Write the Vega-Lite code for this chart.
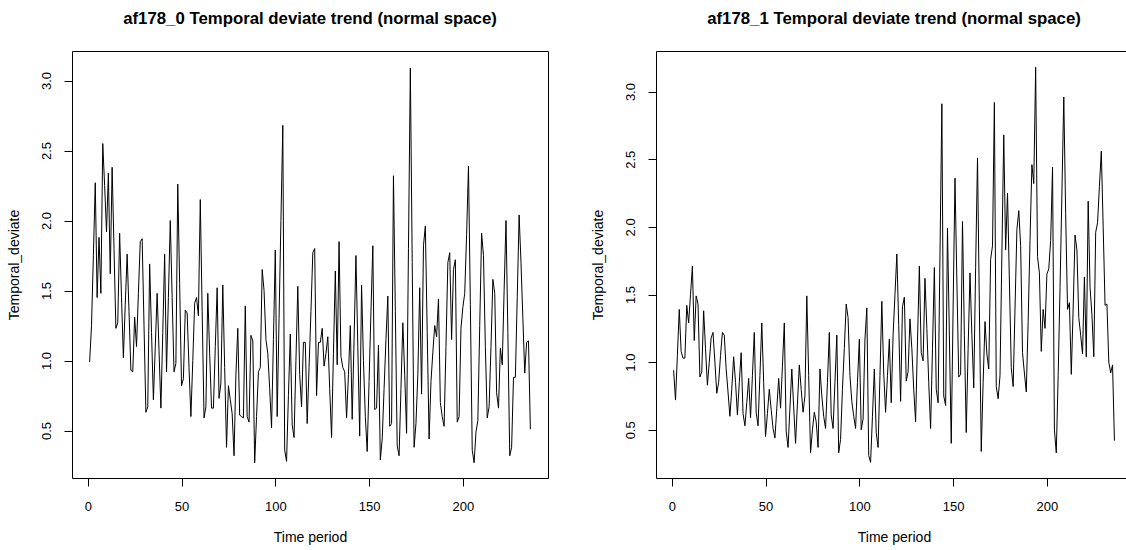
{
"$schema": "https://vega.github.io/schema/vega-lite/v6.json",
"padding": {"left": 7, "top": 10, "right": 0, "bottom": 0},
"spacing": 42,
"config": {
  "font": "Liberation Sans",
  "view": {"stroke": "black", "strokeWidth": 1},
  "axis": {"grid": false, "tickColor": "black", "tickSize": 8, "tickWidth": 1, "labelColor": "black", "labelFontSize": 13, "labelFont": "Liberation Sans", "titleFont": "Liberation Sans", "titleFontSize": 14, "titleFontWeight": "normal", "titleColor": "black", "domainColor": "black", "domainWidth": 1, "labelOverlap": false, "labelFlush": false}
},
"datasets": {
"a0": [
{"t":1,"v":0.99},{"t":2,"v":1.25},{"t":3,"v":1.75},{"t":4,"v":2.27},{"t":5,"v":1.45},{"t":6,"v":1.88},{"t":7,"v":1.48},{"t":8,"v":2.55},{"t":9,"v":2.25},{"t":10,"v":1.92},
{"t":11,"v":2.34},{"t":12,"v":1.62},{"t":13,"v":2.38},{"t":14,"v":1.8},{"t":15,"v":1.23},{"t":16,"v":1.27},{"t":17,"v":1.91},{"t":18,"v":1.45},{"t":19,"v":1.02},{"t":20,"v":1.4},
{"t":21,"v":1.76},{"t":22,"v":1.35},{"t":23,"v":0.93},{"t":24,"v":0.92},{"t":25,"v":1.31},{"t":26,"v":1.1},{"t":27,"v":1.48},{"t":28,"v":1.85},{"t":29,"v":1.87},{"t":30,"v":1.25},
{"t":31,"v":0.63},{"t":32,"v":0.67},{"t":33,"v":1.69},{"t":34,"v":1.2},{"t":35,"v":0.72},{"t":36,"v":1.1},{"t":37,"v":1.48},{"t":38,"v":1.07},{"t":39,"v":0.66},{"t":40,"v":1.2},
{"t":41,"v":1.76},{"t":42,"v":0.92},{"t":43,"v":1.45},{"t":44,"v":2.0},{"t":45,"v":1.45},{"t":46,"v":0.92},{"t":47,"v":0.98},{"t":48,"v":2.26},{"t":49,"v":1.55},{"t":50,"v":0.82},
{"t":51,"v":0.87},{"t":52,"v":1.36},{"t":53,"v":1.34},{"t":54,"v":0.95},{"t":55,"v":0.6},{"t":56,"v":1.0},{"t":57,"v":1.41},{"t":58,"v":1.45},{"t":59,"v":1.32},{"t":60,"v":2.15},
{"t":61,"v":1.35},{"t":62,"v":0.59},{"t":63,"v":0.67},{"t":64,"v":1.48},{"t":65,"v":1.05},{"t":66,"v":0.66},{"t":67,"v":0.66},{"t":68,"v":1.1},{"t":69,"v":1.52},{"t":70,"v":0.73},
{"t":71,"v":0.84},{"t":72,"v":1.54},{"t":73,"v":0.95},{"t":74,"v":0.38},{"t":75,"v":0.82},{"t":76,"v":0.72},{"t":77,"v":0.62},{"t":78,"v":0.32},{"t":79,"v":0.9},{"t":80,"v":1.23},
{"t":81,"v":0.61},{"t":82,"v":0.6},{"t":83,"v":0.59},{"t":84,"v":1.39},{"t":85,"v":0.6},{"t":86,"v":0.56},{"t":87,"v":1.18},{"t":88,"v":1.14},{"t":89,"v":0.27},{"t":90,"v":0.6},
{"t":91,"v":0.92},{"t":92,"v":0.95},{"t":93,"v":1.65},{"t":94,"v":1.5},{"t":95,"v":1.15},{"t":96,"v":1.05},{"t":97,"v":0.8},{"t":98,"v":0.52},{"t":99,"v":1.15},{"t":100,"v":1.79},
{"t":101,"v":0.6},{"t":102,"v":1.3},{"t":103,"v":2.0},{"t":104,"v":2.68},{"t":105,"v":0.36},{"t":106,"v":0.28},{"t":107,"v":0.75},{"t":108,"v":1.19},{"t":109,"v":0.54},{"t":110,"v":0.45},
{"t":111,"v":1.0},{"t":112,"v":1.53},{"t":113,"v":0.9},{"t":114,"v":0.67},{"t":115,"v":1.13},{"t":116,"v":1.13},{"t":117,"v":0.55},{"t":118,"v":0.95},{"t":119,"v":1.35},{"t":120,"v":1.77},
{"t":121,"v":1.8},{"t":122,"v":0.75},{"t":123,"v":1.13},{"t":124,"v":1.13},{"t":125,"v":1.23},{"t":126,"v":0.96},{"t":127,"v":1.05},{"t":128,"v":1.17},{"t":129,"v":0.8},{"t":130,"v":0.45},
{"t":131,"v":1.05},{"t":132,"v":1.64},{"t":133,"v":0.97},{"t":134,"v":1.85},{"t":135,"v":1.03},{"t":136,"v":0.95},{"t":137,"v":0.92},{"t":138,"v":0.59},{"t":139,"v":0.9},{"t":140,"v":1.25},
{"t":141,"v":0.58},{"t":142,"v":1.15},{"t":143,"v":1.75},{"t":144,"v":1.1},{"t":145,"v":0.46},{"t":146,"v":1.54},{"t":147,"v":1.0},{"t":148,"v":0.6},{"t":149,"v":0.35},{"t":150,"v":0.85},
{"t":151,"v":1.35},{"t":152,"v":1.82},{"t":153,"v":0.65},{"t":154,"v":0.66},{"t":155,"v":1.11},{"t":156,"v":0.29},{"t":157,"v":0.44},{"t":158,"v":0.8},{"t":159,"v":1.15},{"t":160,"v":1.46},
{"t":161,"v":0.53},{"t":162,"v":0.55},{"t":163,"v":2.32},{"t":164,"v":1.35},{"t":165,"v":0.39},{"t":166,"v":0.32},{"t":167,"v":0.8},{"t":168,"v":1.27},{"t":169,"v":0.9},{"t":170,"v":0.48},
{"t":171,"v":1.8},{"t":172,"v":3.09},{"t":173,"v":1.7},{"t":174,"v":0.38},{"t":175,"v":0.55},{"t":176,"v":0.9},{"t":177,"v":1.52},{"t":178,"v":0.76},{"t":179,"v":1.82},{"t":180,"v":1.96},
{"t":181,"v":1.2},{"t":182,"v":0.44},{"t":183,"v":0.85},{"t":184,"v":1.06},{"t":185,"v":1.25},{"t":186,"v":1.17},{"t":187,"v":1.44},{"t":188,"v":0.7},{"t":189,"v":0.6},{"t":190,"v":0.53},
{"t":191,"v":1.1},{"t":192,"v":1.7},{"t":193,"v":1.77},{"t":194,"v":1.15},{"t":195,"v":1.65},{"t":196,"v":1.72},{"t":197,"v":0.56},{"t":198,"v":0.6},{"t":199,"v":1.23},{"t":200,"v":1.38},
{"t":201,"v":1.48},{"t":202,"v":1.9},{"t":203,"v":2.39},{"t":204,"v":1.4},{"t":205,"v":0.36},{"t":206,"v":0.27},{"t":207,"v":0.49},{"t":208,"v":0.57},{"t":209,"v":1.25},{"t":210,"v":1.91},
{"t":211,"v":1.75},{"t":212,"v":1.1},{"t":213,"v":0.59},{"t":214,"v":0.67},{"t":215,"v":1.1},{"t":216,"v":1.58},{"t":217,"v":1.48},{"t":218,"v":0.77},{"t":219,"v":0.66},{"t":220,"v":1.09},
{"t":221,"v":0.97},{"t":222,"v":1.5},{"t":223,"v":2.0},{"t":224,"v":1.2},{"t":225,"v":0.32},{"t":226,"v":0.38},{"t":227,"v":0.88},{"t":228,"v":0.88},{"t":229,"v":1.45},{"t":230,"v":2.04},
{"t":231,"v":1.7},{"t":232,"v":1.3},{"t":233,"v":0.91},{"t":234,"v":1.13},{"t":235,"v":1.14},{"t":236,"v":0.51}
],
"a1": [
{"t":1,"v":0.94},{"t":2,"v":0.72},{"t":3,"v":1.05},{"t":4,"v":1.39},{"t":5,"v":1.08},{"t":6,"v":1.03},{"t":7,"v":1.03},{"t":8,"v":1.42},{"t":9,"v":1.29},{"t":10,"v":1.5},
{"t":11,"v":1.71},{"t":12,"v":1.16},{"t":13,"v":1.49},{"t":14,"v":1.43},{"t":15,"v":0.89},{"t":16,"v":0.93},{"t":17,"v":1.38},{"t":18,"v":1.1},{"t":19,"v":0.83},{"t":20,"v":1.0},
{"t":21,"v":1.18},{"t":22,"v":1.22},{"t":23,"v":1.0},{"t":24,"v":0.77},{"t":25,"v":0.85},{"t":26,"v":1.05},{"t":27,"v":1.22},{"t":28,"v":1.2},{"t":29,"v":0.95},{"t":30,"v":0.78},
{"t":31,"v":0.6},{"t":32,"v":0.8},{"t":33,"v":1.04},{"t":34,"v":0.85},{"t":35,"v":0.61},{"t":36,"v":0.85},{"t":37,"v":1.07},{"t":38,"v":0.62},{"t":39,"v":0.53},{"t":40,"v":0.7},
{"t":41,"v":0.88},{"t":42,"v":0.59},{"t":43,"v":0.9},{"t":44,"v":1.22},{"t":45,"v":0.63},{"t":46,"v":0.53},{"t":47,"v":0.9},{"t":48,"v":1.29},{"t":49,"v":0.85},{"t":50,"v":0.45},
{"t":51,"v":0.62},{"t":52,"v":0.8},{"t":53,"v":0.65},{"t":54,"v":0.51},{"t":55,"v":0.44},{"t":56,"v":0.66},{"t":57,"v":0.88},{"t":58,"v":0.66},{"t":59,"v":0.97},{"t":60,"v":1.29},
{"t":61,"v":0.49},{"t":62,"v":0.37},{"t":63,"v":0.66},{"t":64,"v":0.95},{"t":65,"v":0.67},{"t":66,"v":0.4},{"t":67,"v":0.69},{"t":68,"v":0.98},{"t":69,"v":0.8},{"t":70,"v":0.63},
{"t":71,"v":0.75},{"t":72,"v":1.49},{"t":73,"v":0.9},{"t":74,"v":0.33},{"t":75,"v":0.5},{"t":76,"v":0.63},{"t":77,"v":0.56},{"t":78,"v":0.37},{"t":79,"v":0.95},{"t":80,"v":0.75},
{"t":81,"v":0.6},{"t":82,"v":0.51},{"t":83,"v":0.85},{"t":84,"v":1.22},{"t":85,"v":0.61},{"t":86,"v":0.51},{"t":87,"v":0.85},{"t":88,"v":1.2},{"t":89,"v":0.33},{"t":90,"v":0.43},
{"t":91,"v":0.8},{"t":92,"v":1.1},{"t":93,"v":1.43},{"t":94,"v":1.33},{"t":95,"v":0.9},{"t":96,"v":0.71},{"t":97,"v":0.6},{"t":98,"v":0.51},{"t":99,"v":0.85},{"t":100,"v":1.17},
{"t":101,"v":0.5},{"t":102,"v":0.58},{"t":103,"v":1.17},{"t":104,"v":1.4},{"t":105,"v":0.31},{"t":106,"v":0.26},{"t":107,"v":0.6},{"t":108,"v":0.95},{"t":109,"v":0.48},{"t":110,"v":0.37},
{"t":111,"v":0.9},{"t":112,"v":1.45},{"t":113,"v":0.92},{"t":114,"v":0.63},{"t":115,"v":0.9},{"t":116,"v":1.17},{"t":117,"v":0.7},{"t":118,"v":1.2},{"t":119,"v":1.5},{"t":120,"v":1.8},
{"t":121,"v":1.27},{"t":122,"v":0.71},{"t":123,"v":1.41},{"t":124,"v":1.48},{"t":125,"v":0.86},{"t":126,"v":0.93},{"t":127,"v":1.32},{"t":128,"v":1.1},{"t":129,"v":0.8},{"t":130,"v":0.56},
{"t":131,"v":1.15},{"t":132,"v":1.71},{"t":133,"v":1.07},{"t":134,"v":1.01},{"t":135,"v":1.62},{"t":136,"v":1.25},{"t":137,"v":0.85},{"t":138,"v":0.51},{"t":139,"v":1.1},{"t":140,"v":1.7},
{"t":141,"v":0.8},{"t":142,"v":0.7},{"t":143,"v":1.8},{"t":144,"v":2.91},{"t":145,"v":0.75},{"t":146,"v":0.68},{"t":147,"v":1.99},{"t":148,"v":1.2},{"t":149,"v":0.4},{"t":150,"v":1.4},
{"t":151,"v":2.36},{"t":152,"v":1.6},{"t":153,"v":0.89},{"t":154,"v":0.91},{"t":155,"v":2.04},{"t":156,"v":1.2},{"t":157,"v":0.48},{"t":158,"v":1.1},{"t":159,"v":1.66},{"t":160,"v":1.2},
{"t":161,"v":0.81},{"t":162,"v":1.7},{"t":163,"v":2.51},{"t":164,"v":1.4},{"t":165,"v":0.34},{"t":166,"v":0.85},{"t":167,"v":1.3},{"t":168,"v":1.06},{"t":169,"v":0.95},{"t":170,"v":1.76},
{"t":171,"v":1.86},{"t":172,"v":2.92},{"t":173,"v":0.82},{"t":174,"v":0.73},{"t":175,"v":0.9},{"t":176,"v":1.8},{"t":177,"v":2.68},{"t":178,"v":1.83},{"t":179,"v":2.25},{"t":180,"v":1.6},
{"t":181,"v":0.96},{"t":182,"v":0.82},{"t":183,"v":1.4},{"t":184,"v":1.98},{"t":185,"v":2.12},{"t":186,"v":1.86},{"t":187,"v":1.07},{"t":188,"v":0.92},{"t":189,"v":0.78},{"t":190,"v":1.3},
{"t":191,"v":1.9},{"t":192,"v":2.46},{"t":193,"v":2.32},{"t":194,"v":3.18},{"t":195,"v":1.78},{"t":196,"v":1.66},{"t":197,"v":1.08},{"t":198,"v":1.39},{"t":199,"v":1.25},{"t":200,"v":1.65},
{"t":201,"v":1.69},{"t":202,"v":1.9},{"t":203,"v":2.44},{"t":204,"v":0.5},{"t":205,"v":0.33},{"t":206,"v":0.9},{"t":207,"v":1.55},{"t":208,"v":2.25},{"t":209,"v":2.96},{"t":210,"v":2.1},
{"t":211,"v":1.39},{"t":212,"v":1.44},{"t":213,"v":0.91},{"t":214,"v":1.4},{"t":215,"v":1.94},{"t":216,"v":1.83},{"t":217,"v":1.33},{"t":218,"v":1.2},{"t":219,"v":1.06},{"t":220,"v":1.63},
{"t":221,"v":1.04},{"t":222,"v":2.19},{"t":223,"v":1.55},{"t":224,"v":1.35},{"t":225,"v":1.04},{"t":226,"v":1.96},{"t":227,"v":2.03},{"t":228,"v":2.3},{"t":229,"v":2.56},{"t":230,"v":2.0},
{"t":231,"v":1.42},{"t":232,"v":1.43},{"t":233,"v":1.0},{"t":234,"v":0.92},{"t":235,"v":0.98},{"t":236,"v":0.42}
]
},
"hconcat": [
{
  "data": {"name": "a0"},
  "width": 476,
  "height": 427,
  "title": {"text": "af178_0 Temporal deviate trend (normal space)", "fontSize": 16.8, "fontWeight": "bold", "font": "Liberation Sans", "color": "black", "anchor": "middle", "baseline": "alphabetic", "offset": 10.5},
  "mark": {"type": "line", "color": "black", "strokeWidth": 1},
  "encoding": {
    "x": {"field": "t", "type": "quantitative", "scale": {"domain": [-8.4, 245.4], "nice": false, "zero": false},
      "axis": {"values": [0, 50, 100, 150, 200], "title": "Time period", "domain": false, "labelBaseline": "alphabetic", "labelPadding": 24.7, "labelAngle": 0, "titleX": 238, "titleY": 63.2, "titleBaseline": "alphabetic", "titleAlign": "center"}},
    "y": {"field": "v", "type": "quantitative", "scale": {"domain": [0.161, 3.211], "nice": false, "zero": false},
      "axis": {"values": [0.5, 1, 1.5, 2, 2.5, 3], "format": ".1f", "title": "Temporal_deviate", "domain": false, "labelAngle": -90, "labelAlign": "center", "labelBaseline": "alphabetic", "labelPadding": 13.5, "titleAngle": -90, "titleX": -53.2, "titleY": 213.5, "titleBaseline": "alphabetic", "titleAlign": "center"}}
  }
},
{
  "data": {"name": "a1"},
  "width": 471,
  "height": 427,
  "view": {"stroke": null},
  "title": {"text": "af178_1 Temporal deviate trend (normal space)", "fontSize": 16.8, "fontWeight": "bold", "font": "Liberation Sans", "color": "black", "anchor": "middle", "baseline": "alphabetic", "offset": 10.5, "dx": 2.5},
  "layer": [
    {
      "mark": {"type": "line", "color": "black", "strokeWidth": 1},
      "encoding": {
        "x": {"field": "t", "type": "quantitative", "scale": {"domain": [-8.4, 242.7], "nice": false, "zero": false},
          "axis": {"values": [0, 50, 100, 150, 200], "title": "Time period", "domain": true, "labelBaseline": "alphabetic", "labelPadding": 24.7, "labelAngle": 0, "titleX": 238, "titleY": 63.2, "titleBaseline": "alphabetic", "titleAlign": "center"}},
        "y": {"field": "v", "type": "quantitative", "scale": {"domain": [0.144, 3.300], "nice": false, "zero": false},
          "axis": {"values": [0.5, 1, 1.5, 2, 2.5, 3], "format": ".1f", "title": "Temporal_deviate", "domain": true, "labelAngle": -90, "labelAlign": "center", "labelBaseline": "alphabetic", "labelPadding": 13.5, "titleAngle": -90, "titleX": -53.2, "titleY": 213.5, "titleBaseline": "alphabetic", "titleAlign": "center"}}
      }
    },
    {
      "mark": {"type": "line", "color": "black", "strokeWidth": 1, "opacity": 0},
      "encoding": {
        "x": {"field": "t", "type": "quantitative", "axis": {"orient": "top", "labels": false, "ticks": false, "domain": true, "title": null}},
        "y": {"field": "v", "type": "quantitative"}
      }
    }
  ],
  "resolve": {"axis": {"x": "independent"}}
}
]
}
